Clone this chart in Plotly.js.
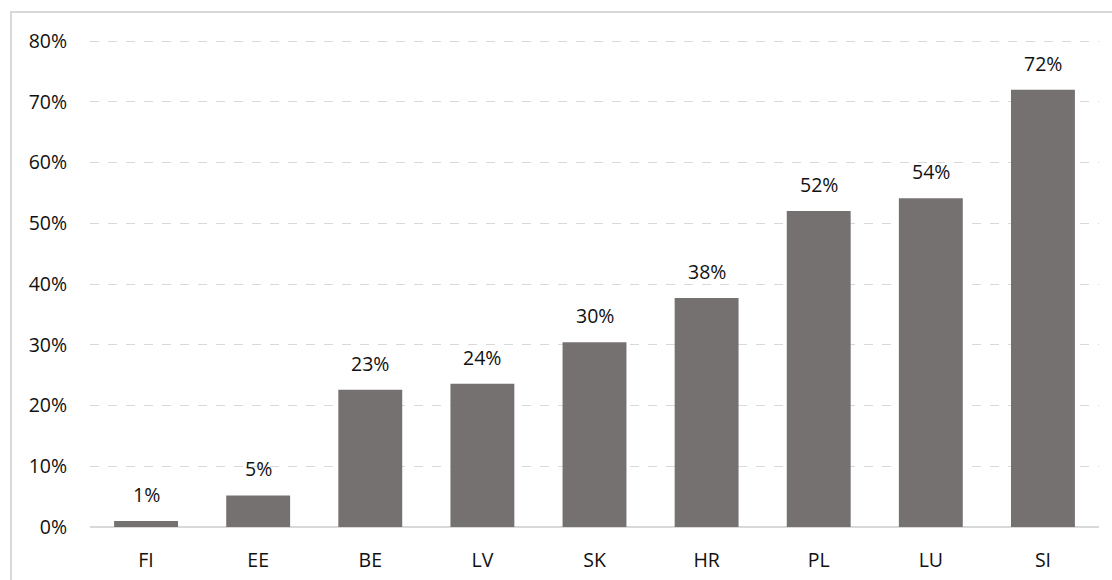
<!DOCTYPE html>
<html>
<head>
<meta charset="utf-8">
<script src="https://cdn.plot.ly/plotly-3.0.1.min.js"></script>
<style>
html,body{margin:0;padding:0;overflow:hidden;background:#fff;}
#wrap{position:absolute;left:10px;top:11px;width:1110px;height:567px;border:2px solid #d9d9d9;}
#chart{width:1110px;height:567px;}
</style>
</head>
<body>
<div id="wrap"><div id="chart"></div></div>
<script>
const categories = ['FI','EE','BE','LV','SK','HR','PL','LU','SI'];
const shares = [1.0, 5.2, 22.6, 23.6, 30.4, 37.7, 52.0, 54.1, 72.0];
const tickValues = [0,10,20,30,40,50,60,70,80];
const tickLabels = ['0%','10%','20%','30%','40%','50%','60%','70%','80%'];

const FONT = {family:'Open Sans, sans-serif', size:19.5, color:'#111'};

const trace = {
  type:'bar', x:categories, y:shares,
  marker:{color:'#767171'},
  hoverinfo:'skip'
};

const annotations = categories.map((c,i)=>({
  x:c, y:shares[i], xref:'x', yref:'y',
  text: Math.round(shares[i]) + '%',
  showarrow:false, yanchor:'bottom', yshift:11,
  font:FONT
}));

const layout = {
  width:1110, height:567,
  margin:{l:78, r:23, t:25, b:53},
  paper_bgcolor:'#fff', plot_bgcolor:'#fff',
  font:FONT,
  bargap:0.43,
  showlegend:false,
  xaxis:{
    type:'category', showgrid:false, zeroline:false, showline:false,
    ticks:'outside', ticklen:16, tickcolor:'rgba(0,0,0,0)',
    tickfont:FONT
  },
  yaxis:{
    range:[0,80.5], tickvals:tickValues, ticktext:tickLabels,
    showgrid:true, gridcolor:'#d9d9d9', griddash:'dash', gridwidth:1,
    zeroline:true, zerolinecolor:'#d9d9d9', zerolinewidth:2,
    showline:false,
    ticks:'outside', ticklen:18, tickcolor:'rgba(0,0,0,0)',
    tickfont:FONT
  },
  annotations:annotations
};

Plotly.newPlot('chart',[trace],layout,{displayModeBar:false, staticPlot:true});
</script>
</body>
</html>
